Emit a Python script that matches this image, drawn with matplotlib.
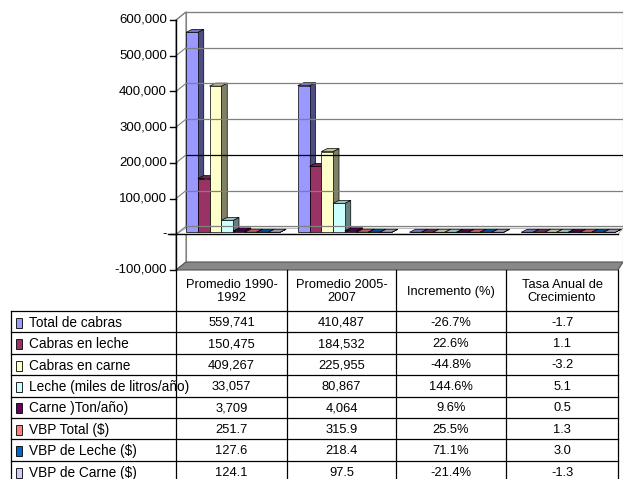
import numpy as np
import matplotlib
matplotlib.use("Agg")
import matplotlib.pyplot as plt
from matplotlib.patches import Polygon, Rectangle
from matplotlib.colors import to_rgb

plt.rcParams['font.family'] = ['Liberation Sans', 'DejaVu Sans']

categories = ["Promedio 1990-\n1992", "Promedio 2005-\n2007", "Incremento (%)",
              "Tasa Anual de\nCrecimiento"]
series = ["Total de cabras", "Cabras en leche", "Cabras en carne",
          "Leche (miles de litros/año)", "Carne )Ton/año)", "VBP Total ($)",
          "VBP de Leche ($)", "VBP de Carne ($)"]
prom_1990 = [559741, 150475, 409267, 33057, 3709, 251.7, 127.6, 124.1]
prom_2005 = [410487, 184532, 225955, 80867, 4064, 315.9, 218.4, 97.5]
incremento = [-26.7, 22.6, -44.8, 144.6, 9.6, 25.5, 71.1, -21.4]  # percent
tasa = [-1.7, 1.1, -3.2, 5.1, 0.5, 1.3, 3.0, -1.3]
colors = ["#9999FF", "#993366", "#FFFFCC", "#CCFFFF",
          "#660066", "#FF8080", "#0066CC", "#CCCCFF"]
yticks = [-100000, 0, 100000, 200000, 300000, 400000, 500000, 600000]

W, H = 623, 479
fig = plt.figure(figsize=(W / 100, H / 100), dpi=100)


def fx(px):
    return px / W


def fy(py):
    return 1 - py / H


def shade(c, k):
    r, g, b = to_rgb(c)
    return (r * k, g * k, b * k)


# chart area in pixels: y axis at x=176, from y=20 (600k) to y=270 (-100k)
ax = fig.add_axes([fx(176), fy(270), (W - 176) / W, 250 / H])
ax.set_xlim(0, 4)
ax.set_ylim(-100000, 600000)
ax.axis('off')
sx = 4 / (W - 176)        # data units per pixel
sy = 700000 / 250

ymin, ymax = yticks[0], yticks[-1]
wdx, wdy = 10 * sx, 8 * sy
xend = 4.0
xfloor = xend - 5 * sx

# walls
ax.add_patch(Polygon([(0, ymin), (0, ymax), (wdx, ymax + wdy), (wdx, ymin + wdy)],
                     closed=True, fc='white', ec='#808080', lw=0.8, clip_on=False))
ax.add_patch(Rectangle((wdx, ymin + wdy), xend - wdx, ymax - ymin,
                       fc='white', ec='#808080', lw=0.8, clip_on=False))
for v in yticks[1:]:
    col = 'black' if v == 200000 else '#808080'
    ax.plot([wdx, xend], [v + wdy, v + wdy], color=col, lw=0.9, clip_on=False)
    ax.plot([0, wdx], [v, v + wdy], color='#808080', lw=0.8, clip_on=False)

# floor
ax.add_patch(Polygon([(0, ymin), (xfloor, ymin), (xend, ymin + wdy), (wdx, ymin + wdy)],
                     closed=True, fc='#888888', ec='#555555', lw=0.8, clip_on=False))

# zero plane
ax.add_patch(Polygon([(0, 0), (xfloor, 0), (xend, 0.75 * wdy), (wdx, 0.75 * wdy)],
                     closed=True, fc='white', ec='#a0a0a0', lw=0.6, clip_on=False))
ax.plot([-8 * sx, xfloor], [0, 0], color='black', lw=1.0, clip_on=False)

# y axis
ax.plot([0, 0], [ymin, ymax], color='black', lw=1.0, clip_on=False)
for v in yticks:
    ax.plot([-6 * sx, 0], [v, v], color='black', lw=1.0, clip_on=False)
    lab = '-' if v == 0 else f"{v:,.0f}"
    ax.text(-9 * sx, v, lab, ha='right', va='center', fontsize=9.5)

# bars
values = [prom_1990, prom_2005, [p / 100 for p in incremento], tasa]
pitch = 11.75 * sx
bdx, bdy = 6 * sx, 3 * sy
base = 2 * sy
for i, vals in enumerate(values):
    for j, v in enumerate(vals):
        x0 = i + 10 * sx + j * pitch
        x1 = x0 + pitch
        top = base + max(v, 0)
        bot = base + min(v, 0)
        c = colors[j]
        ax.add_patch(Polygon([(x1, bot), (x1, top), (x1 + bdx, top + bdy), (x1 + bdx, bot + bdy)],
                             closed=True, fc=shade(c, 0.5), ec='black', lw=0.5, clip_on=False))
        ax.add_patch(Polygon([(x0, top), (x1, top), (x1 + bdx, top + bdy), (x0 + bdx, top + bdy)],
                             closed=True, fc=shade(c, 0.75), ec='black', lw=0.5, clip_on=False))
        ax.add_patch(Rectangle((x0, bot), pitch, top - bot, fc=c, ec='black', lw=0.5,
                               clip_on=False))

# data table
col_x = [176, 287, 396, 506, 618]
row_top, row_h = 311, 21.4
hdr_top = 270
line_kw = dict(color='black', lw=0.9, transform=fig.transFigure)
for k, xc in enumerate(col_x):
    fig.add_artist(plt.Line2D([fx(xc), fx(xc)], [fy(hdr_top), 0], **line_kw))
fig.add_artist(plt.Line2D([fx(11), fx(11)], [fy(row_top), 0], **line_kw))
for r in range(len(series)):
    yl = row_top + r * row_h
    fig.add_artist(plt.Line2D([fx(11), fx(618)], [fy(yl), fy(yl)], **line_kw))

for k, cat in enumerate(categories):
    xc = (col_x[k] + col_x[k + 1]) / 2
    fig.text(fx(xc), fy((hdr_top + row_top) / 2 + 1), cat, ha='center', va='center',
             fontsize=9.3, linespacing=1.05)


def fmt_val(r, v):
    return f"{v:,.0f}" if r < 5 else f"{v:.1f}"


columns = [[fmt_val(r, v) for r, v in enumerate(prom_1990)],
           [fmt_val(r, v) for r, v in enumerate(prom_2005)],
           [f"{v:.1f}%" for v in incremento],
           [f"{v:.1f}" for v in tasa]]

for r, name in enumerate(series):
    yc = row_top + (r + 0.5) * row_h + 1
    fig.add_artist(Rectangle((fx(16), fy(yc + 5)), 6 / W, 10 / H, fc=colors[r], ec='black',
                             lw=0.6, transform=fig.transFigure))
    fig.text(fx(29), fy(yc), name, ha='left', va='center', fontsize=9.8)
    for k in range(4):
        xc = (col_x[k] + col_x[k + 1]) / 2
        fig.text(fx(xc), fy(yc), columns[k][r], ha='center', va='center', fontsize=9.3)

fig.savefig("out.png", dpi=100)
